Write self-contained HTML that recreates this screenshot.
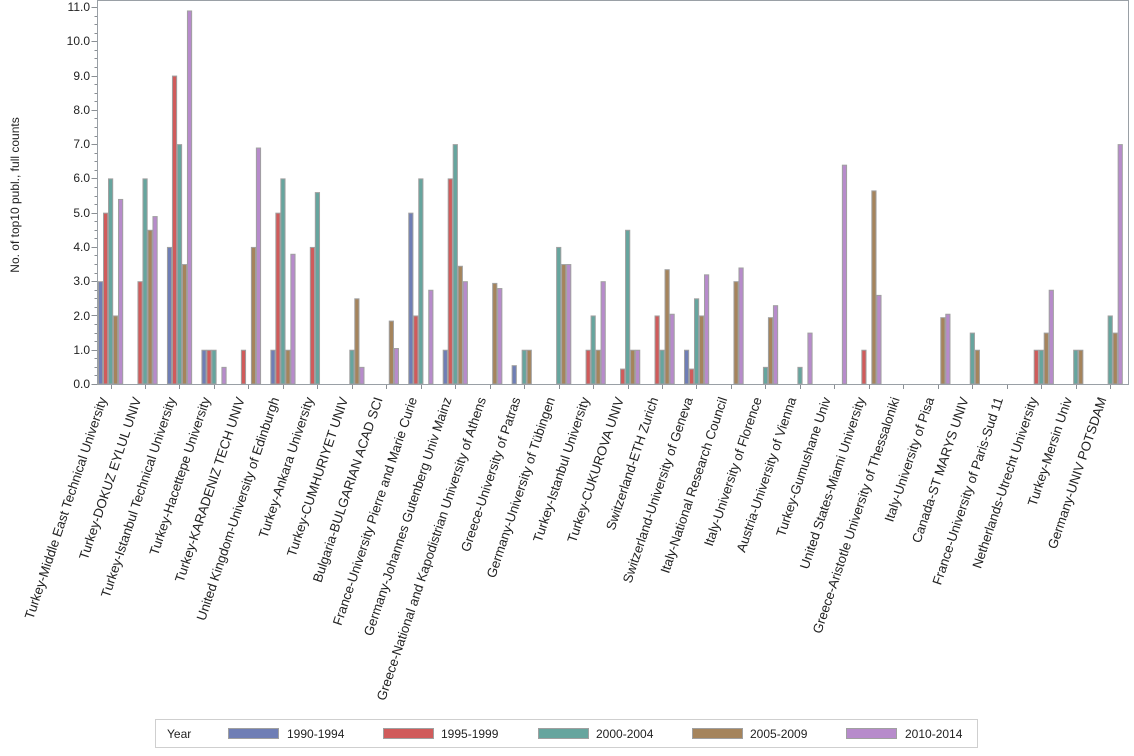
<!DOCTYPE html>
<html><head><meta charset="utf-8"><style>
html,body{margin:0;padding:0;background:#fff;}
svg{display:block;font-family:"Liberation Sans",Arial,sans-serif;}
</style></head><body>
<svg id="s" width="1134" height="756" xmlns="http://www.w3.org/2000/svg">
<rect x="0" y="0" width="1134" height="756" fill="#fff"/>
<g id="bars"></g>
<g id="ticks" stroke="#8a8f94" stroke-width="1"></g>
<path d="M97.5 0.5 H1128.5 V384.5 H97.5 Z" fill="none" stroke="#9aa0a6" stroke-width="1"/>
<g font-size="12" fill="#222" text-anchor="end">
<text x="90" y="388">0.0</text><text x="90" y="354">1.0</text><text x="90" y="320">2.0</text><text x="90" y="285">3.0</text><text x="90" y="251">4.0</text><text x="90" y="217">5.0</text><text x="90" y="182">6.0</text><text x="90" y="148">7.0</text><text x="90" y="114">8.0</text><text x="90" y="80">9.0</text><text x="90" y="45">10.0</text><text x="90" y="11">11.0</text>
</g>
<text transform="translate(19,195) rotate(-90)" font-size="12" fill="#222" text-anchor="middle">No. of top10 publ., full counts</text>
<g id="labels" font-size="13.2" fill="#222" text-anchor="end">
<text data-i="0">Turkey-Middle East Technical University</text>
<text data-i="1">Turkey-DOKUZ EYLUL UNIV</text>
<text data-i="2">Turkey-Istanbul Technical University</text>
<text data-i="3">Turkey-Hacettepe University</text>
<text data-i="4">Turkey-KARADENIZ TECH UNIV</text>
<text data-i="5">United Kingdom-University of Edinburgh</text>
<text data-i="6">Turkey-Ankara University</text>
<text data-i="7">Turkey-CUMHURIYET UNIV</text>
<text data-i="8">Bulgaria-BULGARIAN ACAD SCI</text>
<text data-i="9">France-University Pierre and Marie Curie</text>
<text data-i="10">Germany-Johannes Gutenberg Univ Mainz</text>
<text data-i="11">Greece-National and Kapodistrian University of Athens</text>
<text data-i="12">Greece-University of Patras</text>
<text data-i="13">Germany-University of Tübingen</text>
<text data-i="14">Turkey-Istanbul University</text>
<text data-i="15">Turkey-CUKUROVA UNIV</text>
<text data-i="16">Switzerland-ETH Zurich</text>
<text data-i="17">Switzerland-University of Geneva</text>
<text data-i="18">Italy-National Research Council</text>
<text data-i="19">Italy-University of Florence</text>
<text data-i="20">Austria-University of Vienna</text>
<text data-i="21">Turkey-Gumushane Univ</text>
<text data-i="22">United States-Miami University</text>
<text data-i="23">Greece-Aristotle University of Thessaloniki</text>
<text data-i="24">Italy-University of Pisa</text>
<text data-i="25">Canada-ST MARYS UNIV</text>
<text data-i="26">France-University of Paris-Sud 11</text>
<text data-i="27">Netherlands-Utrecht University</text>
<text data-i="28">Turkey-Mersin Univ</text>
<text data-i="29">Germany-UNIV POTSDAM</text>
</g>
<rect x="155.5" y="719.5" width="822" height="28" fill="#fff" stroke="#cfcfcf"/>
<g font-size="12" fill="#222">
<text x="167" y="738">Year</text>
<rect x="228.5" y="728.5" width="50" height="10" fill="#6f7eb5" stroke="#a0a0a0"/><text x="287" y="738">1990-1994</text>
<rect x="383.5" y="728.5" width="50" height="10" fill="#d05b5b" stroke="#a0a0a0"/><text x="441" y="738">1995-1999</text>
<rect x="538.5" y="728.5" width="50" height="10" fill="#66a59e" stroke="#a0a0a0"/><text x="596" y="738">2000-2004</text>
<rect x="692.5" y="728.5" width="50" height="10" fill="#a5845c" stroke="#a0a0a0"/><text x="750" y="738">2005-2009</text>
<rect x="846.5" y="728.5" width="50" height="10" fill="#b78bcb" stroke="#a0a0a0"/><text x="905" y="738">2010-2014</text>
</g>
</svg>
<script>
var d=[[3,5,6,2,5.4],[0,3,6,4.5,4.9],[4,9,7,3.5,10.9],[1,1,1,0,0.5],[0,1,0,4,6.9],[1,5,6,1,3.8],[0,4,5.6,0,0],[0,0,1,2.5,0.5],[0,0,0,1.85,1.05],[5,2,6,0,2.75],[1,6,7,3.45,3],[0,0,0,2.95,2.8],[0.55,0,1,1,0],[0,0,4,3.5,3.5],[0,1,2,1,3],[0,0.45,4.5,1,1],[0,2,1,3.35,2.05],[1,0.45,2.5,2,3.2],[0,0,0,3,3.4],[0,0,0.5,1.95,2.3],[0,0,0.5,0,1.5],[0,0,0,0,6.4],[0,1,0,5.65,2.6],[0,0,0,0,0],[0,0,0,1.95,2.05],[0,0,1.5,1,0],[0,0,0,0,0],[0,1,1,1.5,2.75],[0,0,1,1,0],[0,0,2,1.5,7]];
var c=["#6f7eb5","#d05b5b","#66a59e","#a5845c","#b78bcb"];
var B=document.getElementById("bars"),T=document.getElementById("ticks");
var y0=384,k=34.27,h="";
d.forEach(function(g,i){var x0=98+34.47*i;g.forEach(function(v,j){if(v<=0)return;var x=x0+5*j,y=y0-v*k;h+='<rect x="'+(x+0.5)+'" y="'+(y+0.5)+'" width="4.2" height="'+(y0-y-0.5)+'" fill="'+c[j]+'" stroke="#a0a0a0" stroke-width="1"/>';});});
B.innerHTML=h;
var t="";for(var q=0;q<=44;q++){var y=Math.round(y0-q*k/4)+0.5;var L=(q%4==0)?6:3;t+='<line x1="'+(97.5-L)+'" y1="'+y+'" x2="97.5" y2="'+y+'"/>';}
for(var i=0;i<30;i++){var x=Math.round(98+34.47*i+12.5)+0.5;t+='<line x1="'+x+'" y1="384.5" x2="'+x+'" y2="389"/>';}
T.innerHTML=t;
Array.prototype.forEach.call(document.querySelectorAll("#labels text"),function(e){var i=+e.getAttribute("data-i");var x=98+34.47*i+9,y=399;e.setAttribute("x",x);e.setAttribute("y",y);e.setAttribute("transform","rotate(-71.5 "+x+" "+y+")");e.removeAttribute("data-i");});
</script>
</body></html>
